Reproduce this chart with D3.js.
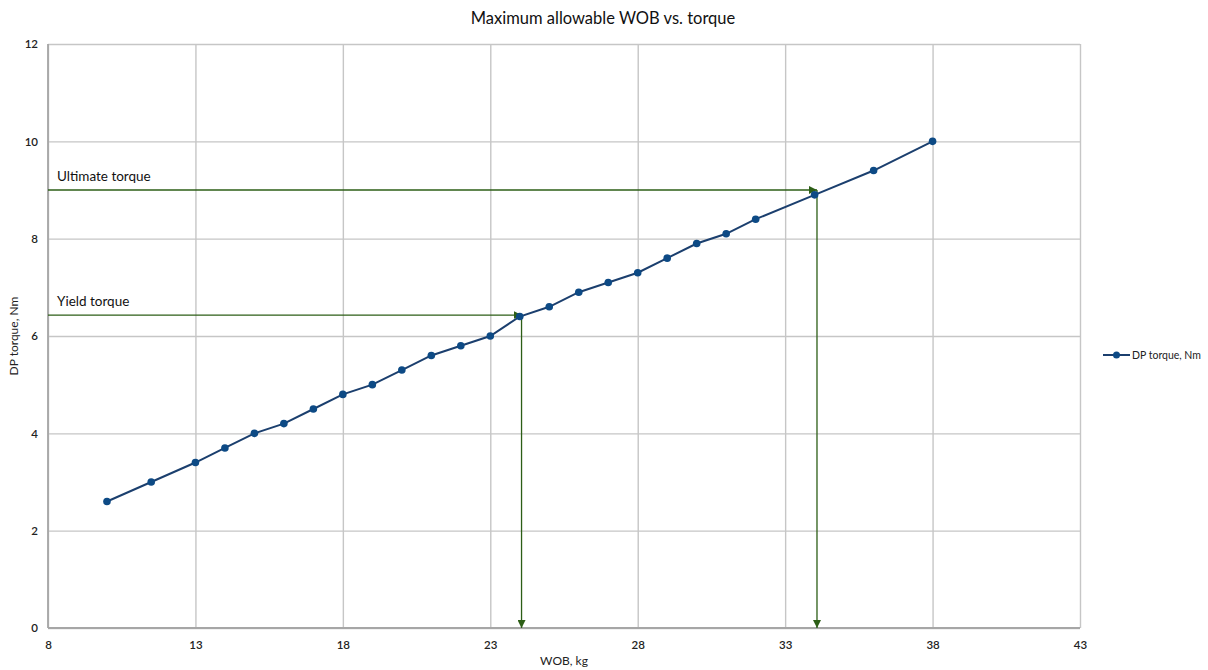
<!DOCTYPE html>
<html>
<head>
<meta charset="utf-8">
<script src="https://cdn.jsdelivr.net/npm/d3@7"></script>
<style>
  html, body { margin: 0; padding: 0; background: #fff; }
  svg { display: block; font-family: Lato, "Open Sans", sans-serif; }
</style>
</head>
<body>
<svg id="chart" width="1208" height="670"></svg>
<script>
// WOB (kg) and drill-pipe torque (Nm) pairs
const wob    = [10, 11.5, 13, 14, 15, 16, 17, 18, 19, 20, 21, 22, 23, 24, 25, 26, 27, 28, 29, 30, 31, 32, 34, 36, 38];
const torque = [2.6, 3.0, 3.4, 3.7, 4.0, 4.2, 4.5, 4.8, 5.0, 5.3, 5.6, 5.8, 6.0, 6.4, 6.6, 6.9, 7.1, 7.3, 7.6, 7.9, 8.1, 8.4, 8.9, 9.4, 10.0];

const xTicks = [8, 13, 18, 23, 28, 33, 38, 43];
const yTicks = [0, 2, 4, 6, 8, 10, 12];

// Torque limits and the WOB at which each is reached
const limitNames  = ["Ultimate torque", "Yield torque"];
const limitTorque = [9.0, 6.43];
const limitWob    = [34.08, 24.06];

const seriesName = "DP torque, Nm";
const title = "Maximum allowable WOB vs. torque";

const svg = d3.select("#chart");
const plot = { left: 48, right: 1080, top: 44, bottom: 628 };

const x = d3.scaleLinear().domain([8, 43]).range([plot.left, plot.right]);
const y = d3.scaleLinear().domain([0, 12]).range([plot.bottom, plot.top]);

const gridColor = "#c6c6c6";
const axisColor = "#a6a6a6";
const lineColor = "#1b3f6e";
const dotColor = "#0d4a85";
const arrowColor = "#2c5e16";

// Arrowhead marker
svg.append("defs").append("marker")
  .attr("id", "arrow")
  .attr("viewBox", "0 0 10 10")
  .attr("refX", 10).attr("refY", 5)
  .attr("markerWidth", 8).attr("markerHeight", 8)
  .attr("markerUnits", "userSpaceOnUse")
  .attr("orient", "auto")
  .append("path")
  .attr("d", "M0,0 L10,5 L0,10 Z")
  .attr("fill", arrowColor);

// Vertical gridlines
svg.append("g")
  .attr("transform", `translate(0,${plot.bottom})`)
  .call(d3.axisBottom(x).tickValues(xTicks).tickSize(-(plot.bottom - plot.top)).tickFormat(""))
  .call(g => g.select(".domain").remove())
  .call(g => g.selectAll("line").attr("stroke", gridColor).attr("stroke-width", 1.4));

// Horizontal gridlines
svg.append("g")
  .attr("transform", `translate(${plot.left},0)`)
  .call(d3.axisLeft(y).tickValues(yTicks).tickSize(-(plot.right - plot.left)).tickFormat(""))
  .call(g => g.select(".domain").remove())
  .call(g => g.selectAll("line").attr("stroke", gridColor).attr("stroke-width", 1.4));

// Axis lines
svg.append("line")
  .attr("x1", plot.left).attr("x2", plot.left)
  .attr("y1", plot.top).attr("y2", plot.bottom)
  .attr("stroke", axisColor).attr("stroke-width", 1.8);
svg.append("line")
  .attr("x1", plot.left).attr("x2", plot.right)
  .attr("y1", plot.bottom).attr("y2", plot.bottom)
  .attr("stroke", axisColor).attr("stroke-width", 1.8);

// Tick labels
svg.append("g")
  .attr("transform", `translate(0,${plot.bottom})`)
  .call(d3.axisBottom(x).tickValues(xTicks).tickSize(0).tickPadding(13).tickFormat(d3.format("d")))
  .call(g => g.select(".domain").remove())
  .call(g => g.selectAll("text").attr("font-family", "Lato, sans-serif").attr("font-size", 11.5)
    .attr("font-weight", 600).attr("fill", "#222"));

svg.append("g")
  .attr("transform", `translate(${plot.left},0)`)
  .call(d3.axisLeft(y).tickValues(yTicks).tickSize(0).tickPadding(10).tickFormat(d3.format("d")))
  .call(g => g.select(".domain").remove())
  .call(g => g.selectAll("text").attr("font-family", "Lato, sans-serif").attr("font-size", 11.5)
    .attr("font-weight", 600).attr("fill", "#222"));

// Torque-limit arrows: across to the curve, then down to the WOB axis
limitNames.forEach((name, i) => {
  svg.append("line")
    .attr("x1", x(8)).attr("y1", y(limitTorque[i]))
    .attr("x2", x(limitWob[i])).attr("y2", y(limitTorque[i]))
    .attr("stroke", arrowColor).attr("stroke-width", 1.3)
    .attr("marker-end", "url(#arrow)");
  svg.append("line")
    .attr("x1", x(limitWob[i])).attr("y1", y(limitTorque[i]))
    .attr("x2", x(limitWob[i])).attr("y2", y(0))
    .attr("stroke", arrowColor).attr("stroke-width", 1.3)
    .attr("marker-end", "url(#arrow)");
  svg.append("text")
    .attr("x", x(8) + 9).attr("y", y(limitTorque[i]) - 9)
    .attr("font-size", 13.5).attr("fill", "#111")
    .text(name);
});

// Data series
const pts = wob.map((w, i) => [w, torque[i]]);
svg.append("path")
  .datum(pts)
  .attr("fill", "none")
  .attr("stroke", lineColor)
  .attr("stroke-width", 2)
  .attr("d", d3.line().x(d => x(d[0])).y(d => y(d[1])));

svg.append("g").selectAll("circle")
  .data(pts)
  .join("circle")
  .attr("cx", d => x(d[0])).attr("cy", d => y(d[1]))
  .attr("r", 3.8)
  .attr("fill", dotColor);

// Title
svg.append("text")
  .attr("x", 603).attr("y", 24)
  .attr("text-anchor", "middle")
  .attr("font-size", 16.5).attr("fill", "#111")
  .text(title);

// Axis titles
svg.append("text")
  .attr("x", (plot.left + plot.right) / 2).attr("y", 665)
  .attr("text-anchor", "middle")
  .attr("font-size", 12).attr("fill", "#222")
  .text("WOB, kg");

svg.append("text")
  .attr("transform", `translate(18,${(plot.top + plot.bottom) / 2}) rotate(-90)`)
  .attr("text-anchor", "middle")
  .attr("font-size", 12).attr("fill", "#222")
  .text(seriesName);

// Legend
const lg = svg.append("g").attr("transform", "translate(1103,355)");
lg.append("line").attr("x1", 0).attr("x2", 27).attr("y1", 0).attr("y2", 0)
  .attr("stroke", lineColor).attr("stroke-width", 2);
lg.append("circle").attr("cx", 13.5).attr("cy", 0).attr("r", 3.5).attr("fill", dotColor);
lg.append("text").attr("x", 29).attr("y", 3.5)
  .attr("font-size", 10.5).attr("fill", "#222")
  .text(seriesName);
</script>
</body>
</html>
